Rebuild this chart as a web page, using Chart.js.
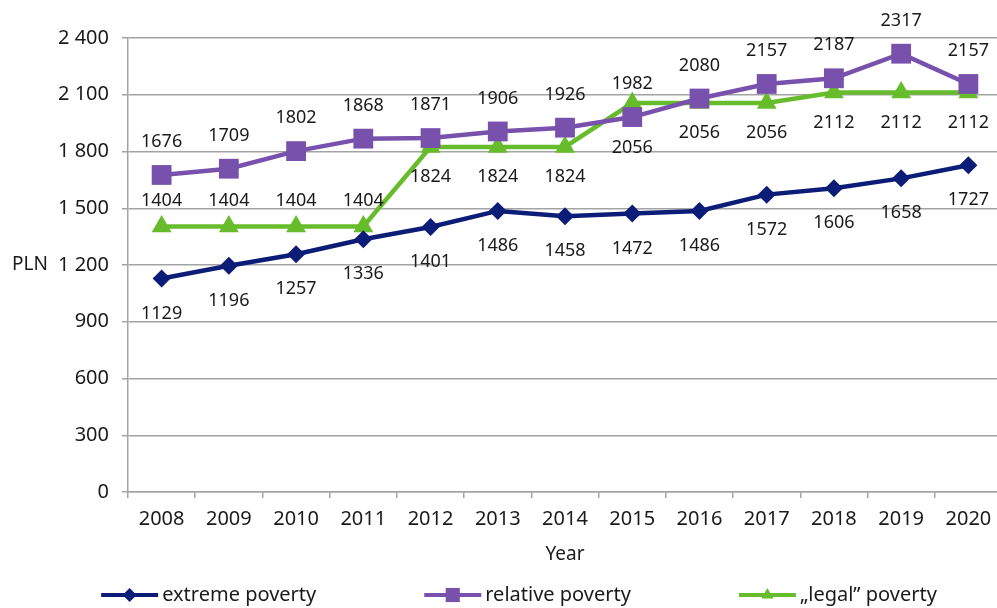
<!DOCTYPE html>
<html>
<head>
<meta charset="utf-8">
<script src="https://cdn.jsdelivr.net/npm/chart.js@4/dist/chart.umd.min.js"></script>
<style>
  html, body { margin:0; padding:0; background:#fff; overflow:hidden; }
  #wrap { width:1005px; height:608px; }
</style>
</head>
<body>
<div id="wrap"><canvas id="c" width="1005" height="608"></canvas></div>
<script>
const years = ['2008','2009','2010','2011','2012','2013','2014','2015','2016','2017','2018','2019','2020'];
const extremePoverty = [1129,1196,1257,1336,1401,1486,1458,1472,1486,1572,1606,1658,1727];
const relativePoverty = [1676,1709,1802,1868,1871,1906,1926,1982,2080,2157,2187,2317,2157];
const legalPoverty = [1404,1404,1404,1404,1824,1824,1824,2056,2056,2056,2112,2112,2112];
const seriesNames = ['extreme poverty','relative poverty','\u201elegal\u201d poverty'];
const yTicks = [0,300,600,900,1200,1500,1800,2100,2400];

const FONT = '"Noto Sans", "Open Sans", sans-serif';
const TXT = '#1a1a1a';
const COLORS = ['#0c1d78', '#7851ad', '#67bc2c'];
const STYLES = ['rectRot', 'rect', 'triangle'];

function fmt(v){ return v >= 1000 ? Math.floor(v/1000) + '\u00a0' + String(v%1000).padStart(3,'0') : String(v); }

function marker(ctx, style, x, y, r, color){
  ctx.save();
  ctx.fillStyle = color;
  ctx.beginPath();
  if (style === 'rectRot') {
    ctx.moveTo(x, y - r); ctx.lineTo(x + r, y); ctx.lineTo(x, y + r); ctx.lineTo(x - r, y);
  } else if (style === 'rect') {
    const s = r * Math.SQRT1_2;
    ctx.rect(x - s, y - s, 2*s, 2*s);
  } else {
    const h = r * 1.5, half = r * Math.sqrt(3)/2;
    ctx.moveTo(x, y - r); ctx.lineTo(x + half, y + h - r); ctx.lineTo(x - half, y + h - r);
  }
  ctx.closePath();
  ctx.fill();
  ctx.restore();
}

const extrasPlugin = {
  id: 'extras',
  afterDatasetsDraw(chart){
    const ctx = chart.ctx;
    const mE = chart.getDatasetMeta(0).data;
    const mR = chart.getDatasetMeta(1).data;
    const mL = chart.getDatasetMeta(2).data;
    ctx.save();
    ctx.font = '18px ' + FONT;
    ctx.fillStyle = TXT;
    ctx.textAlign = 'center';
    ctx.textBaseline = 'middle';
    for (let i = 0; i < years.length; i++) {
      ctx.fillText(String(extremePoverty[i]), mE[i].x, mE[i].y + 35);
      ctx.fillText(String(relativePoverty[i]), mR[i].x, mR[i].y - 33);
      let ly;
      if (Math.abs(mL[i].y - mR[i].y) < 40) {
        ly = mL[i].y + 30;
        if (mR[i].y > mL[i].y) ly = Math.max(ly, mR[i].y + 31);
      } else {
        ly = mL[i].y - 26;
      }
      ctx.fillText(String(legalPoverty[i]), mL[i].x, ly);
    }
    ctx.restore();
  },
  afterDraw(chart){
    const ctx = chart.ctx;
    const yScale = chart.scales.y;
    ctx.save();
    ctx.fillStyle = TXT;
    ctx.font = '19px ' + FONT;
    ctx.textAlign = 'center';
    ctx.textBaseline = 'middle';
    ctx.fillText('PLN', 30, yScale.getPixelForValue(1200));
    // legend
    ctx.font = '20px ' + FONT;
    ctx.textAlign = 'left';
    const lineW = 57, gapText = 4, gapItem = 108;
    const widths = seriesNames.map(n => lineW + gapText + ctx.measureText(n).width);
    const total = widths.reduce((a,b)=>a+b,0) + gapItem*(widths.length-1);
    let x = 519 - total/2;
    const y = 595;
    seriesNames.forEach((n, k) => {
      ctx.strokeStyle = COLORS[k];
      ctx.lineWidth = 4;
      ctx.beginPath(); ctx.moveTo(x, y); ctx.lineTo(x + lineW, y); ctx.stroke();
      marker(ctx, STYLES[k], x + lineW/2, y, k === 1 ? 10 : 7, COLORS[k]);
      ctx.fillStyle = TXT;
      ctx.fillText(n, x + lineW + gapText, y);
      x += widths[k] + gapItem;
    });
    ctx.restore();
  }
};

const dataSets = [extremePoverty, relativePoverty, legalPoverty].map((arr, k) => ({
  label: seriesNames[k],
  data: arr,
  borderColor: COLORS[k],
  backgroundColor: COLORS[k],
  borderWidth: 4.5,
  pointStyle: STYLES[k],
  pointRadius: [9, 14, 11.5][k],
  pointHoverRadius: [9, 14, 11.5][k],
  pointBorderWidth: 0,
  tension: 0,
  fill: false
}));

new Chart(document.getElementById('c'), {
  type: 'line',
  data: { labels: years, datasets: dataSets },
  options: {
    responsive: false,
    animation: false,
    events: [],
    layout: { autoPadding: false, padding: { top: 38, right: 3, left: 0, bottom: 42 } },
    plugins: { legend: { display: false }, tooltip: { enabled: false } },
    scales: {
      x: {
        offset: true,
        grid: { offset: true, drawOnChartArea: false, drawTicks: true, tickLength: 6, color: '#a3a3a3', lineWidth: 1.5 },
        border: { color: '#a3a3a3', width: 1.5 },
        ticks: { color: TXT, font: { family: FONT, size: 20 }, padding: 9, maxRotation: 0, autoSkip: false },
        title: { display: true, text: 'Year', color: TXT, font: { family: FONT, size: 19 }, padding: { top: 4, bottom: 0 } },
        afterFit(s){ s.height = 74; s.paddingLeft = 0; s.paddingRight = 0; }
      },
      y: {
        min: 0, max: 2400,
        afterBuildTicks(s){ s.ticks = yTicks.map(v => ({ value: v })); },
        grid: { color: '#a3a3a3', lineWidth: 1.5, tickLength: 6 },
        border: { color: '#a3a3a3', width: 1.5 },
        ticks: { color: TXT, font: { family: FONT, size: 20 }, padding: 13, callback: v => fmt(v) },
        afterFit(s){ s.width = 128; }
      }
    }
  },
  plugins: [extrasPlugin]
});
</script>
</body>
</html>
